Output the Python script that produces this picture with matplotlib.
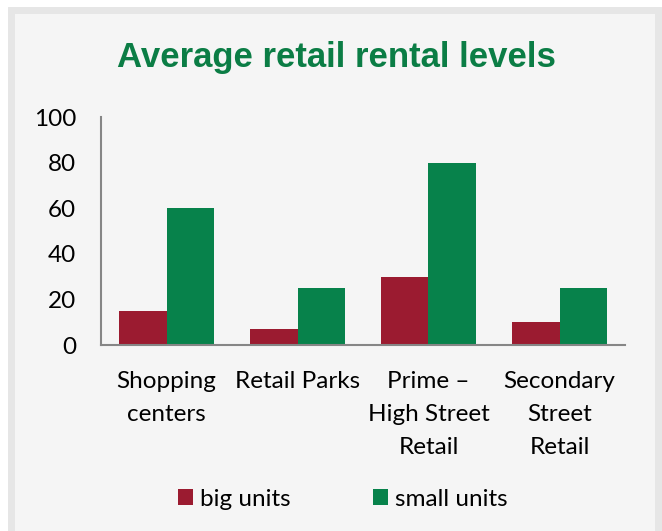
import matplotlib.pyplot as plt
import matplotlib.patches as mpatches
import numpy as np

categories = ["Shopping\ncenters", "Retail Parks", "Prime \u2013\nHigh Street\nRetail", "Secondary\nStreet\nRetail"]
big_units = [15, 7, 30, 10]
small_units = [60, 25, 80, 25]
yticks = [0, 20, 40, 60, 80, 100]

red = "#9b1b30"
green = "#07824b"
body_font = ["Lato", "DejaVu Sans"]
fs = 17.5

fig = plt.figure(figsize=(6.62, 5.31), dpi=100)
fig.patch.set_facecolor("white")

# panel background with light grey frame
W, H = 662, 531
frame = mpatches.Rectangle((11 / W, -0.05), (658 - 11) / W, 1 - 10 / H + 0.05,
                           transform=fig.transFigure, facecolor="#f5f5f5",
                           edgecolor="#e6e6e6", linewidth=5, zorder=-5)
fig.patches.append(frame)

ax = fig.add_axes([101 / W, 1 - 345 / H, (625 - 101) / W, (345 - 117) / H])
ax.set_facecolor("none")

x = np.arange(len(categories))
w = 0.363
ax.bar(x - w / 2, big_units, w, color=red, label="big units")
ax.bar(x + w / 2, small_units, w, color=green, label="small units")

ax.set_xlim(-0.5, len(categories) - 0.5)
ax.set_ylim(0, 100)
ax.set_yticks(yticks)
ax.set_yticklabels([str(v) for v in yticks], fontfamily=body_font, fontsize=fs)
ax.set_xticks(x)
ax.set_xticklabels(categories, fontfamily=body_font, fontsize=fs, linespacing=1.7)
ax.tick_params(axis="y", length=0, pad=18)
ax.tick_params(axis="x", length=0, pad=19)

for s in ["top", "right"]:
    ax.spines[s].set_visible(False)
for s in ["left", "bottom"]:
    ax.spines[s].set_color("#868686")
    ax.spines[s].set_linewidth(1.5)

fig.text(336 / W, 1 - 58 / H, "Average retail rental levels", ha="center", va="center",
         fontfamily="Liberation Sans", fontweight="bold", fontsize=25, color="#0b7d45")

fig.legend(loc="center", bbox_to_anchor=(343 / W, 1 - 499 / H), ncol=2, frameon=False,
           prop={"family": body_font, "size": fs}, handlelength=0.62, handleheight=0.62,
           handletextpad=0.29, columnspacing=3.37)

plt.savefig("out.png", dpi=100)
